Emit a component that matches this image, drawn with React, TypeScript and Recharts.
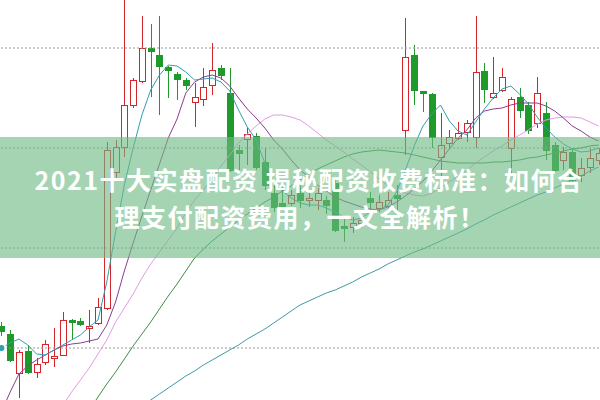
import { ComposedChart, Bar, Line, XAxis, YAxis, ReferenceLine } from 'recharts'

// daily candles
const opens = [
  2.72, 2.64, 2.25, 2.47, 2.26, 2.36, 2.40, 2.43, 2.78, 2.77,
  2.70, 2.75, 2.90, 4.26, 4.51, 4.93, 5.17, 5.50, 5.43, 5.31,
  5.24, 5.18, 4.96, 4.99, 5.13, 5.30, 5.05, 4.48, 4.59, 4.62,
  4.36, 4.05, 3.95, 3.95, 4.05, 3.98, 3.98, 3.98, 4.15, 3.72,
  3.71, 3.75, 4.00, 3.90, 3.92, 4.03, 4.68, 5.43, 5.07, 5.04,
  4.41, 4.55, 4.60, 4.66, 4.61, 5.27, 5.01, 5.08, 4.50, 5.01,
  4.93, 4.75, 4.85, 4.53, 4.38, 4.46, 4.23, 4.31, 4.38,
]
const closes = [
  2.67, 2.38, 2.46, 2.26, 2.34, 2.54, 2.42, 2.78, 2.76, 2.74,
  2.72, 2.91, 4.48, 4.51, 4.93, 5.18, 5.50, 5.47, 5.32, 5.28,
  5.19, 5.13, 5.01, 5.11, 5.28, 5.23, 4.28, 4.45, 4.64, 4.31,
  4.13, 3.91, 3.92, 4.03, 3.98, 4.00, 4.05, 3.93, 3.68, 3.70,
  3.75, 3.78, 3.96, 3.96, 3.98, 4.00, 5.41, 5.08, 5.05, 4.61,
  4.53, 4.61, 4.65, 4.75, 5.26, 5.09, 5.05, 5.21, 4.99, 4.88,
  4.68, 5.05, 4.48, 4.28, 4.46, 4.18, 4.30, 4.40, 4.45,
]
const highs = [
  2.76, 2.68, 2.48, 2.53, 2.40, 2.58, 2.70, 2.86, 2.79, 2.80,
  2.88, 3.00, 4.56, 4.58, 6.03, 5.20, 5.82, 5.74, 5.82, 5.32,
  5.26, 5.20, 5.15, 5.30, 5.55, 5.33, 5.30, 4.53, 4.70, 4.65,
  4.50, 4.13, 4.11, 4.08, 4.15, 4.06, 4.10, 4.02, 4.18, 3.80,
  3.81, 3.83, 4.06, 4.03, 4.06, 4.13, 5.80, 5.53, 5.07, 5.05,
  4.85, 4.68, 4.76, 4.78, 5.82, 5.35, 5.41, 5.30, 5.01, 5.10,
  4.96, 5.21, 4.96, 4.56, 4.51, 4.50, 4.40, 4.50, 4.50,
]
const lows = [
  2.62, 2.36, 2.00, 2.24, 2.20, 2.33, 2.31, 2.42, 2.58, 2.72,
  2.55, 2.73, 2.88, 4.18, 4.41, 4.90, 5.15, 5.01, 4.83, 5.00,
  4.98, 5.08, 4.71, 4.92, 5.03, 5.18, 4.26, 4.28, 4.33, 4.28,
  4.08, 3.86, 3.90, 3.92, 3.90, 3.91, 3.88, 3.84, 3.66, 3.56,
  3.65, 3.70, 3.81, 3.86, 3.88, 3.88, 4.43, 4.93, 4.86, 4.50,
  4.21, 4.50, 4.58, 4.56, 4.50, 4.95, 4.99, 5.06, 4.23, 4.80,
  4.64, 4.70, 4.38, 4.26, 4.28, 4.16, 4.16, 4.25, 4.33,
]

// moving averages as drawn
const ma5 = [
  2.50, 2.55, 2.59, 2.53, 2.44, 2.43, 2.48, 2.53, 2.58, 2.63,
  2.71, 2.78, 3.16, 3.66, 4.13, 4.50, 4.83, 5.08, 5.23, 5.33,
  5.32, 5.26, 5.18, 5.19, 5.20, 5.16, 5.07, 4.88, 4.71, 4.58,
  4.35, 4.17, 4.07, 4.00, 3.95, 3.93, 3.93, 3.90, 3.86, 3.81,
  3.78, 3.80, 3.86, 3.88, 3.93, 4.06, 4.28, 4.52, 4.72, 4.84,
  4.93, 4.77, 4.67, 4.63, 4.76, 4.89, 5.00, 5.09, 5.12, 5.04,
  4.94, 4.81, 4.70, 4.61, 4.54, 4.49, 4.46, 4.47, 4.50,
]
const ma10 = [
  1.86, 2.06, 2.24, 2.32, 2.38, 2.43, 2.48, 2.52, 2.54, 2.55,
  2.57, 2.59, 2.73, 2.96, 3.27, 3.55, 3.82, 4.08, 4.34, 4.60,
  4.79, 5.05, 5.16, 5.21, 5.23, 5.20, 5.12, 5.00, 4.89, 4.80,
  4.70, 4.58, 4.49, 4.38, 4.28, 4.21, 4.13, 4.07, 4.01, 3.97,
  3.94, 3.91, 3.89, 3.88, 3.91, 3.96, 4.02, 4.09, 4.17, 4.27,
  4.38, 4.49, 4.60, 4.68, 4.80, 4.87, 4.89, 4.90, 4.93, 4.95,
  4.95, 4.95, 4.92, 4.87, 4.80, 4.72, 4.67, 4.61, 4.57,
]
const ma20 = [
  null, null, null, null, null, null, 1.80, 1.93, 2.06, 2.18,
  2.30, 2.44, 2.58, 2.76, 2.90, 3.04, 3.20, 3.34, 3.46, 3.58,
  3.70, 3.85, 3.98, 4.08, 4.20, 4.32, 4.43, 4.55, 4.64, 4.72,
  4.79, 4.83, 4.83, 4.81, 4.78, 4.72, 4.65, 4.58, 4.52, 4.46,
  4.39, 4.33, 4.26, 4.19, 4.13, 4.08, 4.05, 4.03, 4.02, 4.05,
  4.10, 4.16, 4.22, 4.28, 4.35, 4.41, 4.47, 4.52, 4.58, 4.63,
  4.68, 4.74, 4.78, 4.80, 4.81, 4.81, 4.80, 4.76, 4.72,
]
const ma60 = [
  null, null, null, null, null, null, null, null, null, null,
  1.88, 2.01, 2.14, 2.26, 2.39, 2.52, 2.64, 2.76, 2.89, 3.02,
  3.14, 3.27, 3.40, 3.49, 3.57, 3.64, 3.71, 3.78, 3.84, 3.90,
  3.96, 4.01, 4.07, 4.12, 4.18, 4.24, 4.29, 4.33, 4.37, 4.41,
  4.44, 4.46, 4.47, 4.48, 4.47, 4.46, 4.45, 4.43, 4.41, 4.39,
  4.37, 4.36, 4.35, 4.35, 4.35, 4.35, 4.36, 4.36, 4.37, 4.38,
  4.40, 4.41, 4.43, 4.45, 4.47, 4.49, 4.50, 4.52, 4.53,
]
const ma120 = [
  null, null, null, null, null, null, null, null, null, null,
  null, null, null, null, null, null, 1.92, 1.98, 2.04, 2.10,
  2.16, 2.22, 2.27, 2.33, 2.38, 2.43, 2.48, 2.53, 2.59, 2.64,
  2.69, 2.75, 2.81, 2.87, 2.93, 2.97, 3.01, 3.05, 3.08, 3.12,
  3.16, 3.21, 3.25, 3.29, 3.34, 3.38, 3.42, 3.46, 3.49, 3.53,
  3.57, 3.61, 3.65, 3.69, 3.74, 3.78, 3.83, 3.87, 3.91, 3.95,
  3.99, 4.03, 4.06, 4.10, 4.14, 4.18, 4.22, 4.27, 4.31,
]

const gridPrices = [2.5, 3.5, 4.5, 5.5]

const RED = '#d3262b'
const GREEN = '#1d9a2a'

const data = opens.map((open, i) => ({
  day: `${i + 1}`,
  open,
  close: closes[i],
  high: highs[i],
  low: lows[i],
  range: [lows[i], highs[i]],
  ma5: ma5[i],
  ma10: ma10[i],
  ma20: ma20[i],
  ma60: ma60[i],
  ma120: ma120[i],
}))

function Candle(props: any) {
  const { x, y, width, height, payload } = props
  if (!payload) return null
  const { open, close, high, low } = payload
  const top = Math.min(y, y + height)
  const bottom = Math.max(y, y + height)
  const span = high - low || 1
  const toY = (v: number) => top + ((high - v) / span) * (bottom - top)
  const cx = Math.round(x + width / 2) + 0.5
  const up = close >= open
  const bodyTop = Math.round(toY(Math.max(open, close))) + 0.5
  const bodyBot = Math.max(bodyTop + 1, Math.round(toY(Math.min(open, close))) + 0.5)

  if (up) {
    return (
      <g>
        <line x1={cx} x2={cx} y1={top} y2={bodyTop} stroke={RED} strokeWidth={1} />
        <line x1={cx} x2={cx} y1={bodyBot} y2={bottom} stroke={RED} strokeWidth={1} />
        <rect x={cx - 3} y={bodyTop} width={6} height={bodyBot - bodyTop} fill="#fff" stroke={RED} strokeWidth={1} />
      </g>
    )
  }
  return (
    <g>
      <line x1={cx} x2={cx} y1={top} y2={bottom} stroke={GREEN} strokeWidth={1} />
      <rect x={cx - 3.5} y={bodyTop - 0.5} width={7} height={bodyBot - bodyTop + 1} fill={GREEN} />
    </g>
  )
}

export default function App() {
  return (
    <div
      style={{
        position: 'fixed',
        left: 0,
        top: 0,
        width: 600,
        height: 400,
        overflow: 'hidden',
        background: '#fff',
      }}
    >
      <div style={{ position: 'absolute', left: -3, top: 0 }}>
        <ComposedChart width={606} height={400} data={data} margin={{ top: 0, right: 0, bottom: 0, left: 0 }}>
          <XAxis dataKey="day" hide />
          <YAxis hide domain={[1.98, 5.98]} allowDataOverflow />
          {gridPrices.map((p) => (
            <ReferenceLine key={p} y={p} stroke="#9a9a9a" strokeDasharray="2 2" />
          ))}
          <Bar dataKey="range" shape={<Candle />} isAnimationActive={false} />
          <Line type="linear" dataKey="ma120" stroke="#3f9aa6" strokeWidth={1} dot={false} isAnimationActive={false} />
          <Line type="linear" dataKey="ma60" stroke="#3d8f45" strokeWidth={1} dot={false} isAnimationActive={false} />
          <Line type="linear" dataKey="ma20" stroke="#e49ae6" strokeWidth={1} dot={false} isAnimationActive={false} />
          <Line type="linear" dataKey="ma10" stroke="#8e3b8e" strokeWidth={1} dot={false} isAnimationActive={false} />
          <Line type="linear" dataKey="ma5" stroke="#2f9fae" strokeWidth={1} dot={false} isAnimationActive={false} />
        </ComposedChart>
      </div>
      <div
        style={{
          position: 'absolute',
          left: 0,
          top: 137,
          width: 600,
          height: 121,
          background: 'rgba(110, 185, 130, 0.62)',
          display: 'flex',
          flexDirection: 'column',
          alignItems: 'center',
          justifyContent: 'center',
          color: '#fff',
          fontFamily: '"Noto Sans CJK SC", "Noto Sans", sans-serif',
          fontWeight: 700,
          fontSize: 25,
          letterSpacing: 1.5,
          lineHeight: '37px',
          textAlign: 'center',
        }}
      >
        <div style={{ paddingLeft: 18 }}>2021十大实盘配资 揭秘配资收费标准：如何合</div>
        <div>理支付配资费用，一文全解析！</div>
      </div>
    </div>
  )
}
